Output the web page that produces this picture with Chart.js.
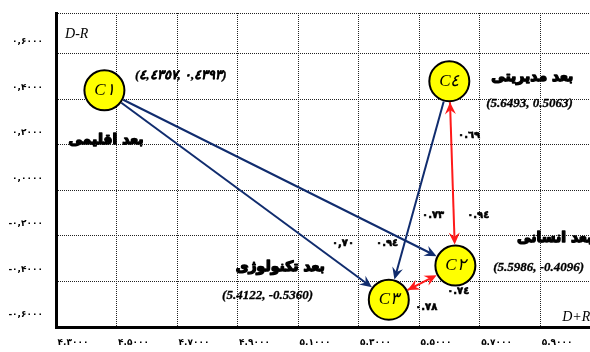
<!DOCTYPE html>
<html>
<head>
<meta charset="utf-8">
<script src="https://cdn.jsdelivr.net/npm/chart.js@4/dist/chart.umd.min.js"></script>
<style>
  body { margin: 0; background: #fff; }
  canvas { display: block; }
</style>
</head>
<body>
<canvas id="chart" width="590" height="352"></canvas>
<script>
'use strict';

// the four dimensions, placed where the circles sit in the picture
var nodeNames = ['C١', 'C٢', 'C٣', 'C٤'];
var nodeX = [4.46, 5.62, 5.40, 5.60];
var nodeY = [0.44, -0.33, -0.48, 0.48];

// links between nodes: 'one' = single arrow, 'both' = two-headed
var linkFrom = [0, 0, 3, 3, 2];
var linkTo = [1, 2, 2, 1, 1];
var linkKind = ['one', 'one', 'one', 'both', 'both'];

// axis ticks
var xTicks = [4.3, 4.5, 4.7, 4.9, 5.1, 5.3, 5.5, 5.7, 5.9];
var xTickLabels = ['۴.۳۰۰۰', '۴.۵۰۰۰', '۴.۷۰۰۰', '۴.۹۰۰۰', '۵.۱۰۰۰', '۵.۳۰۰۰', '۵.۵۰۰۰', '۵.۷۰۰۰', '۵.۹۰۰۰'];
var yTicks = [-0.6, -0.4, -0.2, 0, 0.2, 0.4, 0.6];
var yTickLabels = ['-۰,۶۰۰۰', '-۰,۴۰۰۰', '-۰,۲۰۰۰', '۰,۰۰۰۰', '۰,۲۰۰۰', '۰,۴۰۰۰', '۰,۶۰۰۰'];
var xMin = 4.3, xMax = 6.065;
var yMin = -0.6, yMax = 0.78;

// text notes on the plot (value coordinates)
var noteText = [
  'D-R', 'D+R',
  '(٤,٤٣٥٧,\u200E ٠,٤٣٩٣)', 'بعد اقلیمی',
  'بعد مدیریتی', '(5.6493, 0.5063)',
  'بعد انسانی', '(5.5986, -0.4096)',
  'بعد تکنولوژی', '(5.4122, -0.5360)',
  '٠.٦٩', '٠.٧٣', '٠.٩٤', '٠,٧٠', '٠.٩٤', '٠.٧٤', '٠.٧٨'
];
var noteX = [4.33, 5.973, 4.561, 4.465, 5.874, 5.722, 5.824, 5.745, 5.041, 4.849,
  5.629, 5.510, 5.659, 5.212, 5.358, 5.593, 5.487];
var noteY = [0.688, -0.556, 0.503, 0.222, 0.499, 0.380, -0.209, -0.341, -0.336, -0.464,
  0.244, -0.108, -0.108, -0.231, -0.231, -0.442, -0.512];
var noteKind = ['axis', 'axis', 'coord', 'title', 'title', 'coord', 'titleL', 'coord', 'title', 'coord',
  'num', 'num', 'num', 'num', 'num', 'num', 'num'];

var NAVY = '#102c6e';
var RED = '#ff1a1a';

function arrowHead(ctx, x, y, ang, color) {
  var len = 12, half = 5.5;
  var c = Math.cos(ang), s = Math.sin(ang);
  ctx.beginPath();
  ctx.moveTo(x, y);
  ctx.lineTo(x - len * c + half * s, y - len * s - half * c);
  ctx.lineTo(x - len * 0.65 * c, y - len * 0.65 * s);
  ctx.lineTo(x - len * c - half * s, y - len * s + half * c);
  ctx.closePath();
  ctx.fillStyle = color;
  ctx.fill();
}

var extras = {
  id: 'extras',
  beforeDatasetsDraw: function (chart) {
    var ctx = chart.ctx;
    var pts = chart.getDatasetMeta(0).data;
    var r = 21;
    ctx.save();
    for (var i = 0; i < linkFrom.length; i++) {
      var a = pts[linkFrom[i]], b = pts[linkTo[i]];
      var ang = Math.atan2(b.y - a.y, b.x - a.x);
      var c = Math.cos(ang), s = Math.sin(ang);
      var x1 = a.x + r * c, y1 = a.y + r * s;
      var x2 = b.x - r * c, y2 = b.y - r * s;
      var color = linkKind[i] === 'both' ? RED : NAVY;
      ctx.strokeStyle = color;
      ctx.lineWidth = 2;
      ctx.beginPath();
      ctx.moveTo(x1, y1);
      ctx.lineTo(x2 - 6 * c, y2 - 6 * s);
      ctx.stroke();
      arrowHead(ctx, x2, y2, ang, color);
      if (linkKind[i] === 'both') {
        arrowHead(ctx, x1, y1, ang + Math.PI, color);
      }
    }
    ctx.restore();
  },
  afterDatasetsDraw: function (chart) {
    var ctx = chart.ctx;
    var pts = chart.getDatasetMeta(0).data;
    var xs = chart.scales.x, ys = chart.scales.y;
    ctx.save();
    ctx.fillStyle = '#000';
    ctx.strokeStyle = '#000';
    ctx.textBaseline = 'middle';
    ctx.textAlign = 'center';
    for (var i = 0; i < pts.length; i++) {
      ctx.font = 'italic 17px "Liberation Serif"';
      ctx.fillText(nodeNames[i], pts[i].x, pts[i].y);
    }
    for (var j = 0; j < noteText.length; j++) {
      var k = noteKind[j];
      var heavy = 0;
      ctx.textAlign = 'left';
      if (k === 'axis') ctx.font = 'italic 14px "Liberation Serif"';
      if (k === 'coord') { ctx.font = 'italic bold 13px "Liberation Serif"'; heavy = 0.3; }
      if (k === 'title' || k === 'titleL') { ctx.font = 'bold 14px "DejaVu Sans"'; heavy = 1.4; }
      if (k === 'title') ctx.textAlign = 'center';
      if (k === 'num') { ctx.font = 'bold 10px "DejaVu Sans"'; heavy = 0.6; }
      var px = xs.getPixelForValue(noteX[j]), py = ys.getPixelForValue(noteY[j]);
      if (heavy) {
        ctx.lineWidth = heavy;
        ctx.lineJoin = 'round';
        ctx.strokeText(noteText[j], px, py);
      }
      ctx.fillText(noteText[j], px, py);
    }
    ctx.restore();
  }
};

var points = [];
for (var i = 0; i < nodeX.length; i++) {
  points.push({x: nodeX[i], y: nodeY[i]});
}

new Chart(document.getElementById('chart'), {
  type: 'scatter',
  data: {
    datasets: [{
      data: points,
      pointRadius: 20,
      pointHoverRadius: 20,
      backgroundColor: '#ffff00',
      borderColor: '#000',
      borderWidth: 2
    }]
  },
  options: {
    responsive: false,
    animation: false,
    devicePixelRatio: 1,
    layout: { autoPadding: false, padding: { top: 13, right: 0, left: 0, bottom: 0 } },
    plugins: { legend: { display: false }, tooltip: { enabled: false } },
    scales: {
      x: {
        type: 'linear',
        min: xMin,
        max: xMax,
        afterBuildTicks: function (axis) {
          axis.ticks = xTicks.concat([xMax]).map(function (v) { return {value: v}; });
        },
        afterFit: function (axis) { axis.height = 25; },
        grid: {
          drawTicks: true,
          tickLength: 10,
          tickColor: 'rgba(0,0,0,0)',
          color: function (c) { return c.index === xTicks.length ? 'rgba(0,0,0,0)' : '#222'; },
          lineWidth: 1
        },
        border: { display: true, color: '#000', width: 3, dash: [1, 1] },
        ticks: {
          autoSkip: false,
          maxRotation: 0,
          padding: 0,
          labelOffset: 17,
          color: '#000',
          font: { family: 'DejaVu Sans', size: 9, weight: 'bold' },
          callback: function (v, idx) { return xTickLabels[idx] || ''; }
        }
      },
      y: {
        type: 'linear',
        min: yMin,
        max: yMax,
        afterBuildTicks: function (axis) {
          axis.ticks = yTicks.concat([yMax]).map(function (v) { return {value: v}; });
        },
        afterFit: function (axis) { axis.width = 56; },
        grid: {
          drawTicks: true,
          tickLength: 13,
          tickColor: 'rgba(0,0,0,0)',
          color: '#222',
          lineWidth: 1
        },
        border: { display: true, color: '#000', width: 3, dash: [1, 1] },
        ticks: {
          autoSkip: false,
          padding: 0,
          labelOffset: -12,
          color: '#000',
          font: { family: 'DejaVu Sans', size: 9, weight: 'bold' },
          callback: function (v, idx) { return yTickLabels[idx] || ''; }
        }
      }
    }
  },
  plugins: [extras]
});
</script>
</body>
</html>
